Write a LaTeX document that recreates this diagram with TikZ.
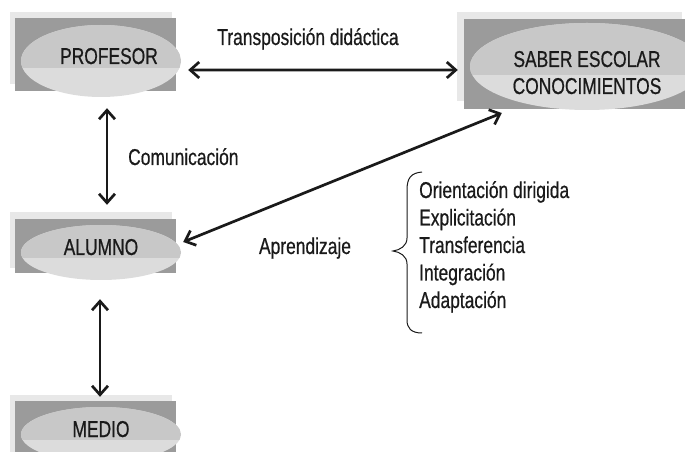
\documentclass[tikz,border=0pt]{standalone}
\usepackage{fontspec}
\setmainfont{Liberation Sans}[FakeStretch=0.76,FakeBold=0.6]
\usetikzlibrary{arrows.meta,calc,shapes.geometric}
\definecolor{boxlight}{HTML}{E8E8E8}
\definecolor{boxdark}{HTML}{9B9B9B}
\definecolor{ovalup}{HTML}{C8C8C8}
\definecolor{ovallow}{HTML}{DCDCDC}
\definecolor{ink}{HTML}{1A1A1A}
\tikzset{
  oval/.style={ellipse, inner sep=0pt, fill=ovallow, draw=none,
    path picture={\fill[ovalup] (path picture bounding box.north west) rectangle
      ($(path picture bounding box.north east)!0.6!(path picture bounding box.south east)$);}},
  lbl/.style={font=\fontsize{23}{28}\selectfont, text=ink, inner sep=0pt, anchor=base},
  lblw/.style={lbl, anchor=base west},
  link/.style={<->, line width=2.7bp, draw=ink,
    >={Straight Barb[length=9pt,width=16pt,line width=2.7bp]}},
  bracepath/.style={draw=ink, line width=1bp}
}
\begin{document}
\begin{tikzpicture}[x=1bp,y=-1bp]
\useasboundingbox (0,0) rectangle (685,452);
\clip (0,0) rectangle (685,452);
% PROFESOR
\fill[boxlight] (10,12) rectangle (172,84);
\fill[boxdark] (15,18) rectangle (176,91);
\node[oval, minimum width=160bp, minimum height=72bp] (prof) at (101,61) {};
\node[lbl] (proft) at (109,64) {PROFESOR};
% SABER ESCOLAR
\fill[boxlight] (457,12) rectangle (682,101);
\fill[boxdark] (464,19) rectangle (690,109);
\node[oval, minimum width=234bp, minimum height=87bp] (saber) at (587,66.5) {};
\node[lbl] (sabert1) at (587,67) {SABER ESCOLAR};
\node[lbl] (sabert2) at (587,94) {CONOCIMIENTOS};
% ALUMNO
\fill[boxlight] (10,212) rectangle (172,268);
\fill[boxdark] (15,219) rectangle (176,273);
\node[oval, minimum width=160bp, minimum height=55bp] (alum) at (101,252.5) {};
\node[lbl] (alumt) at (101,255) {ALUMNO};
% MEDIO
\fill[boxlight] (10,395) rectangle (172,460);
\fill[boxdark] (15,401) rectangle (176,460);
\node[oval, minimum width=160bp, minimum height=55bp] (medio) at (101,434.5) {};
\node[lbl] (mediot) at (101,437) {MEDIO};
% connectors
\draw[link] ($(prof.east)+(7,9)$) -- ($(saber.west)+(-12,3.5)$);
\draw[link] ($(prof.south)+(6,11)$) -- ($(alum.north)+(6,-20)$);
\draw[link] ($(alum.south)+(-1,19)$) -- ($(medio.north)+(-1,-10)$);
\draw[link] ($(alum.east)+(2,-10.5)$) -- ($(saber.west)+(32,46.5)$);
% labels
\node[lbl] (ltrans) at (308,45) {Transposición didáctica};
\node[lblw] (lcom) at (128,165) {Comunicación};
\node[lbl] (lapr) at (305,254) {Aprendizaje};
% brace and list
\draw[bracepath] (422,172) .. controls (411,173) and (407,178) .. (407,190)
  -- (407,238) .. controls (407,246) and (400,250) .. (393,251)
  .. controls (400,252) and (407,256) .. (407,264)
  -- (407,320) .. controls (407,328) and (411,333) .. (422,333);
\node[lblw] (l1) at (419,198) {Orientación dirigida};
\node[lblw] (l2) at (419,225.5) {Explicitación};
\node[lblw] (l3) at (419,253) {Transferencia};
\node[lblw] (l4) at (419,280.5) {Integración};
\node[lblw] (l5) at (419,308) {Adaptación};
\end{tikzpicture}
\end{document}
